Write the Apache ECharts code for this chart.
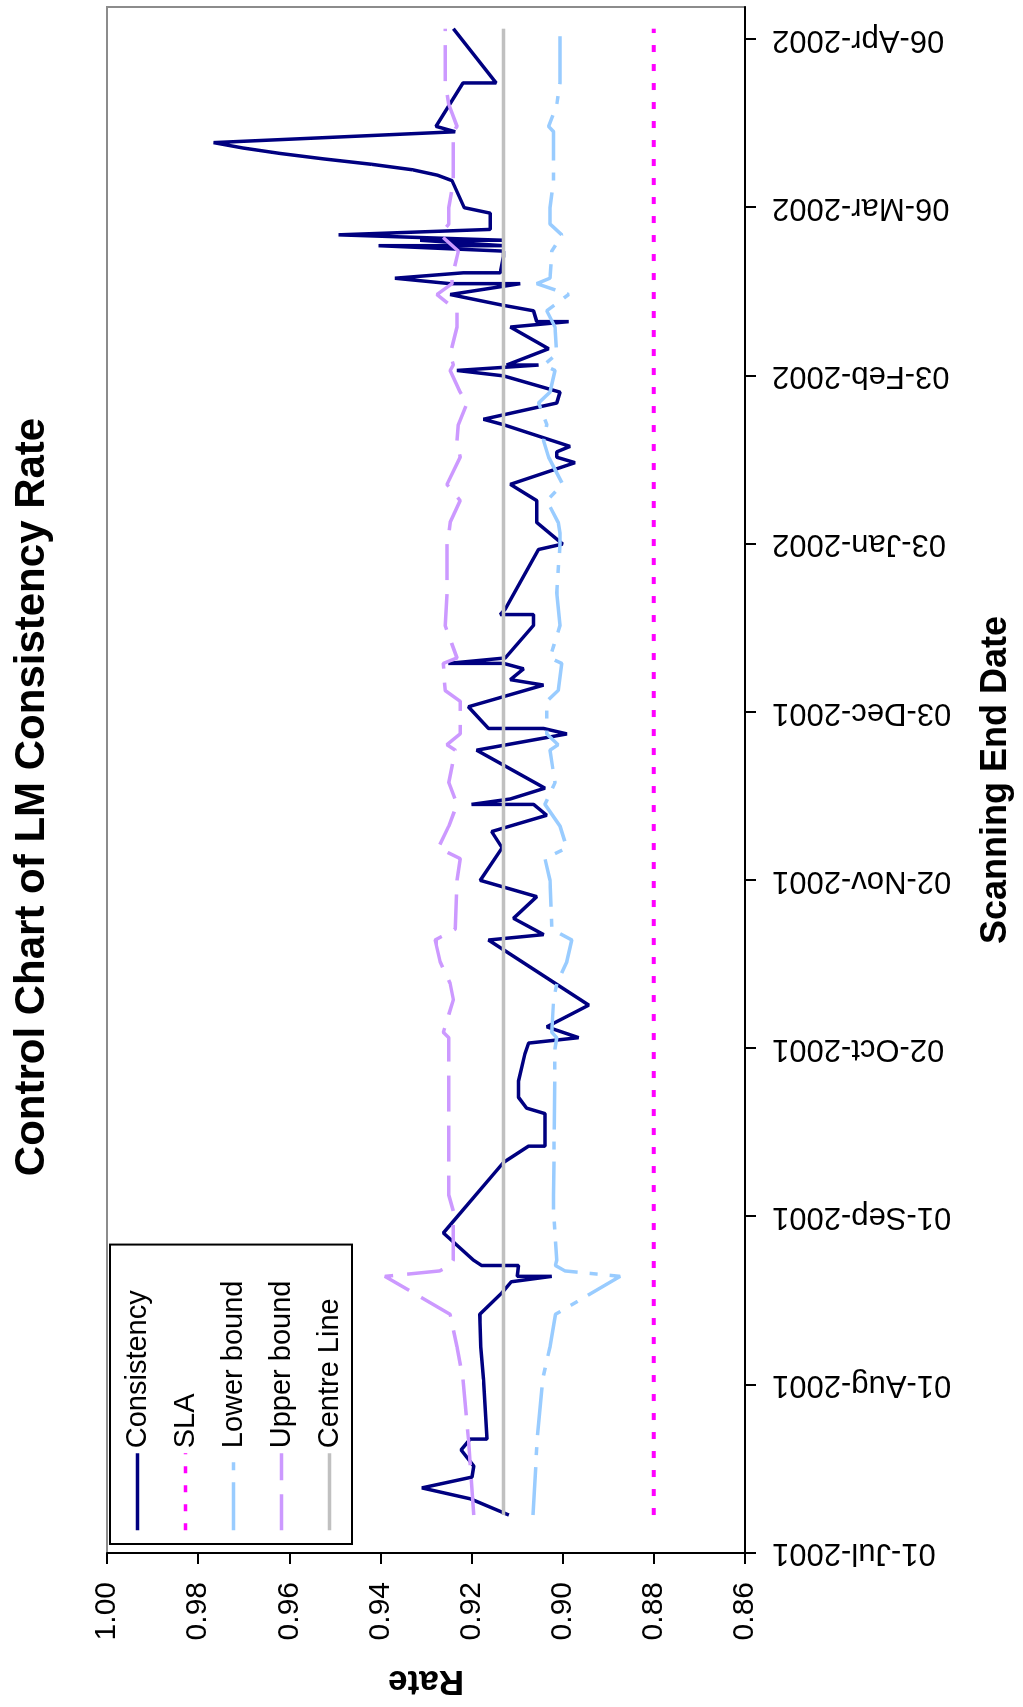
<!DOCTYPE html>
<html><head><meta charset="utf-8">
<script src="https://cdn.jsdelivr.net/npm/echarts@6/dist/echarts.min.js"></script>
<style>
html,body{margin:0;padding:0;background:#fff;width:1023px;height:1707px;overflow:hidden}
#rot{position:absolute;left:0;top:0;width:1707px;height:1023px;transform-origin:0 0;transform:translate(0px,1707px) rotate(-90deg)}
#chart{width:1707px;height:1023px}
</style></head><body>
<div id="rot"><div id="chart"></div></div>
<script>
// Days are counted from 01-Jul-2001 (the start of the date axis)
const tickDays = [0, 31, 62, 93, 124, 155, 186, 217, 248, 279];
const rateTicks = [0.86, 0.88, 0.90, 0.92, 0.94, 0.96, 0.98, 1.00];

const consDays = [7,10,12,14,16,19,21,21,32,38,44,48,50,51,51,53,53,54,59,72,75,75,81,82,84,87,92,94,95,97,101,113,114,117,121,124,130,133,136,138,138,139,141,148,151,152,152,156,160,161,163,164,164,165,171,173,173,174,185,186,190,192,194,197,201,202,203,204,208,209,212,214,217,218,219,219,222,226,227,227,229,230,232,234,234,235,236,236,239,240,241,241,242,242,243,244,247,248,253,254,255,256,257,258,259,260,262,263,271,271,281];
const consistency = [0.9118,0.9203,0.9309,0.9199,0.9195,0.9223,0.9203,0.9166,0.9174,0.9180,0.9182,0.9133,0.9113,0.9024,0.9100,0.9097,0.9178,0.9196,0.9262,0.9130,0.9075,0.9039,0.9039,0.9079,0.9097,0.9097,0.9083,0.9075,0.8965,0.9035,0.8943,0.9163,0.9042,0.9108,0.9057,0.9181,0.9133,0.9156,0.9035,0.9064,0.9200,0.9115,0.9039,0.9189,0.8991,0.9042,0.9163,0.9207,0.9042,0.9115,0.9086,0.9130,0.9251,0.9126,0.9064,0.9064,0.9137,0.9126,0.9053,0.9000,0.9057,0.9057,0.9057,0.9115,0.8973,0.9013,0.9013,0.8984,0.9130,0.9174,0.9013,0.9006,0.9130,0.9232,0.9053,0.9123,0.9031,0.9115,0.8987,0.9057,0.9064,0.9130,0.9247,0.9093,0.9247,0.9368,0.9218,0.9137,0.9130,0.9130,0.9404,0.9130,0.9313,0.9130,0.9492,0.9159,0.9159,0.9216,0.9243,0.9275,0.9330,0.9419,0.9525,0.9620,0.9701,0.9766,0.9236,0.9278,0.9219,0.9146,0.9240];

const boundDays = [7,21,32,38,44,51,52,53,54,63,66,93,95,96,102,105,109,113,115,124,128,130,134,138,142,148,149,151,157,159,164,165,171,177,186,188,190,194,197,202,205,208,212,214,218,219,221,226,229,232,234,235,240,243,245,248,253,262,263,267,271,281];
const upperBound = [0.9195,0.9207,0.9219,0.9232,0.9247,0.9390,0.9270,0.9247,0.9240,0.9240,0.9250,0.9250,0.9250,0.9262,0.9240,0.9247,0.9269,0.9280,0.9236,0.9232,0.9225,0.9273,0.9250,0.9232,0.9250,0.9236,0.9254,0.9225,0.9225,0.9258,0.9262,0.9232,0.9258,0.9254,0.9254,0.9250,0.9247,0.9225,0.9254,0.9225,0.9232,0.9229,0.9210,0.9225,0.9247,0.9240,0.9247,0.9232,0.9232,0.9276,0.9243,0.9243,0.9229,0.9269,0.9250,0.9250,0.9240,0.9240,0.9232,0.9250,0.9258,0.9258];
const lowerBound = [0.9065,0.9056,0.9044,0.9028,0.9016,0.8874,0.8995,0.9016,0.9013,0.9020,0.9020,0.9017,0.9013,0.9024,0.9020,0.9013,0.8991,0.8980,0.9024,0.9028,0.9039,0.8991,0.9006,0.9039,0.9017,0.9028,0.9010,0.9035,0.9035,0.9010,0.9002,0.9028,0.9006,0.9013,0.9006,0.9006,0.9010,0.9035,0.9000,0.9031,0.9042,0.9035,0.9053,0.9028,0.9017,0.9042,0.9013,0.9017,0.9035,0.8987,0.9057,0.9028,0.9024,0.9002,0.9028,0.9028,0.9020,0.9020,0.9031,0.9013,0.9006,0.9006];

const refDays = [7, 281];
const slaRate = [0.88, 0.88];
const centreRate = [0.913, 0.913];

const START = Date.UTC(2001, 6, 1);
const MON = ['Jan','Feb','Mar','Apr','May','Jun','Jul','Aug','Sep','Oct','Nov','Dec'];
function fmtDay(d) {
  const t = new Date(START + d * 86400000);
  const dd = String(t.getUTCDate()).padStart(2, '0');
  return dd + '-' + MON[t.getUTCMonth()] + '-' + t.getUTCFullYear();
}
function pairs(xs, ys) { return xs.map((x, i) => [x, ys[i]]); }

const FONT = 'Liberation Sans, Arial, sans-serif';
const chart = echarts.init(document.getElementById('chart'));
chart.setOption({
  animation: false,
  backgroundColor: '#ffffff',
  textStyle: { fontFamily: FONT, color: '#000' },
  title: {
    text: 'Control Chart of LM Consistency Rate',
    left: 905, top: 6, textAlign: 'center',
    textStyle: { fontFamily: FONT, fontSize: 42, fontWeight: 'bold', color: '#000' }
  },
  grid: { left: 154, right: 7, top: 107, bottom: 278, show: true, borderColor: '#8c8c8c', borderWidth: 2, backgroundColor: '#ffffff' },
  legend: {
    orient: 'vertical', left: 163, top: 110,
    itemWidth: 77, itemHeight: 14, itemGap: 19,
    padding: [13, 36, 8, 12],
    borderColor: '#000', borderWidth: 2, backgroundColor: '#ffffff',
    itemStyle: { opacity: 0 },
    lineStyle: { width: 3.5 },
    textStyle: { fontFamily: FONT, fontSize: 29, color: '#000' },
    data: ['Consistency', 'SLA', 'Lower bound', 'Upper bound', 'Centre Line']
  },
  xAxis: {
    type: 'value', min: 0, max: 285, interval: 31,
    name: 'Scanning End Date', nameLocation: 'middle', nameGap: 233,
    nameTextStyle: { fontFamily: FONT, fontSize: 36, fontWeight: 'bold', color: '#000' },
    axisLine: { onZero: false, lineStyle: { color: '#000', width: 2 } },
    axisTick: { show: true, length: 11, customValues: tickDays, lineStyle: { color: '#000', width: 2 } },
    axisLabel: { customValues: tickDays, rotate: 90, margin: 27, fontSize: 31, color: '#000', fontFamily: FONT, formatter: v => fmtDay(v) },
    splitLine: { show: false }
  },
  yAxis: {
    type: 'value', min: 0.86, max: 1.0, interval: 0.02,
    name: 'Rate', nameLocation: 'middle', nameRotate: 90, nameGap: 110,
    nameTextStyle: { fontFamily: FONT, fontSize: 35, fontWeight: 'bold', color: '#000' },
    axisLine: { show: true, onZero: false, lineStyle: { color: '#000', width: 2 } },
    axisTick: { show: true, length: 11, customValues: rateTicks, lineStyle: { color: '#000', width: 2 } },
    axisLabel: { customValues: rateTicks, margin: 29, fontSize: 30, color: '#000', fontFamily: FONT, formatter: v => v.toFixed(2) },
    splitLine: { show: false }
  },
  series: [
    { name: 'Consistency', type: 'line', symbol: 'none', data: pairs(consDays, consistency),
      lineStyle: { color: '#000080', width: 3.5 }, itemStyle: { color: '#000080' } },
    { name: 'SLA', type: 'line', symbol: 'none', data: pairs(refDays, slaRate),
      lineStyle: { color: '#FF00FF', width: 4, type: [7, 12] }, itemStyle: { color: '#FF00FF' } },
    { name: 'Lower bound', type: 'line', symbol: 'none', data: pairs(boundDays, lowerBound),
      lineStyle: { color: '#99CCFF', width: 3.5, type: [48, 12, 8, 12] }, itemStyle: { color: '#99CCFF' } },
    { name: 'Upper bound', type: 'line', symbol: 'none', data: pairs(boundDays, upperBound),
      lineStyle: { color: '#CC99FF', width: 3.5, type: [36, 14] }, itemStyle: { color: '#CC99FF' } },
    { name: 'Centre Line', type: 'line', symbol: 'none', data: pairs(refDays, centreRate),
      lineStyle: { color: '#C0C0C0', width: 3.5 }, itemStyle: { color: '#C0C0C0' } }
  ]
});
</script>
</body></html>
